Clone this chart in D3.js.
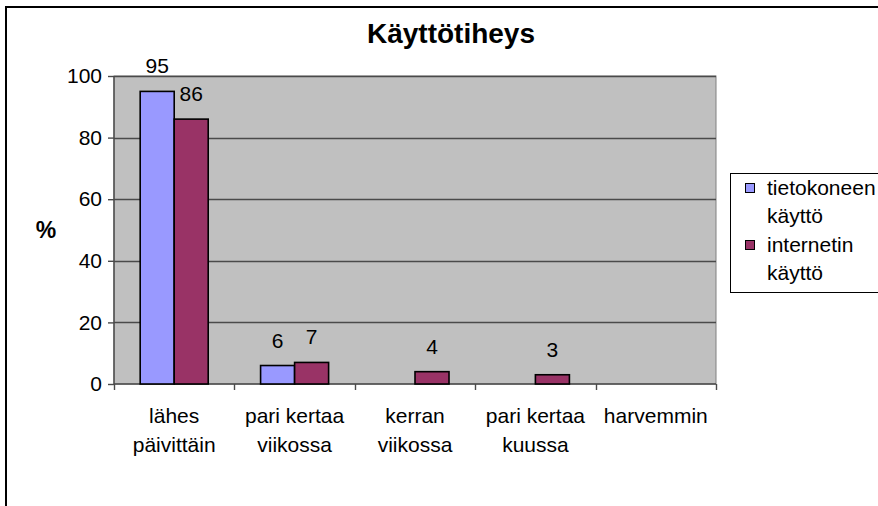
<!DOCTYPE html>
<html>
<head>
<meta charset="utf-8">
<script src="https://cdn.jsdelivr.net/npm/d3@7"></script>
<style>
  html, body { margin: 0; padding: 0; background: #fff; overflow: hidden; }
  svg { display: block; font-family: "Liberation Sans", Arial, sans-serif; }
</style>
</head>
<body>
<svg id="chart" width="878" height="506"></svg>
<script>
const title = "Käyttötiheys";
const yTitle = "%";
const categories = [["lähes", "päivittäin"], ["pari kertaa", "viikossa"], ["kerran", "viikossa"], ["pari kertaa", "kuussa"], ["harvemmin"]];
const seriesNames = [["tietokoneen", "käyttö"], ["internetin", "käyttö"]];
const tietokone = [95, 6, 0, 0, 0];
const internet = [86, 7, 4, 3, 0];
const yTicks = [0, 20, 40, 60, 80, 100];
const colors = ["#9999FF", "#993366"];

const FS = 21;
const svg = d3.select("#chart");
const plot = { left: 114, right: 716, top: 76, bottom: 384 };
const catKeys = categories.map((c, i) => i);
const seriesData = [tietokone, internet];

// outer chart border
svg.append("rect").attr("x", 6).attr("y", 7).attr("width", 920).attr("height", 540)
  .attr("fill", "#fff").attr("stroke", "#000").attr("stroke-width", 2);

const x0 = d3.scaleBand().domain(catKeys).range([plot.left, plot.right]).paddingInner(0).paddingOuter(0);
const x1 = d3.scaleBand().domain([0, 1]).range([0, x0.bandwidth()]).paddingInner(0).paddingOuter(0.77);
const y = d3.scaleLinear().domain([0, 100]).range([plot.bottom, plot.top]);

// plot area
svg.append("rect").attr("x", plot.left).attr("y", plot.top)
  .attr("width", plot.right - plot.left).attr("height", plot.bottom - plot.top)
  .attr("fill", "#C0C0C0").attr("stroke", "#808080").attr("stroke-width", 1);

// gridlines
svg.append("g").selectAll("line").data(yTicks.filter(t => t > 0)).join("line")
  .attr("x1", plot.left).attr("x2", plot.right)
  .attr("y1", d => Math.round(y(d)) + 0.5).attr("y2", d => Math.round(y(d)) + 0.5)
  .attr("stroke", "#4a4a4a").attr("stroke-width", 1.4);

// y axis
const yAxis = d3.axisLeft(y).tickValues(yTicks).tickSize(6).tickPadding(6).tickFormat(d3.format("d"));
const gy = svg.append("g").attr("transform", `translate(${plot.left},0)`).call(yAxis);
gy.select(".domain").attr("stroke", "#4a4a4a").attr("stroke-width", 1.4).attr("d", `M0,${plot.top}V${plot.bottom}`);
gy.selectAll(".tick line").attr("stroke", "#4a4a4a").attr("stroke-width", 1.4);
gy.selectAll(".tick text").attr("font-size", FS).attr("fill", "#000")
  .attr("font-family", "Liberation Sans, Arial, sans-serif");

// x axis
const xAxis = d3.axisBottom(x0).tickSize(0).tickFormat(() => "");
const gx = svg.append("g").attr("transform", `translate(0,${plot.bottom})`).call(xAxis);
gx.select(".domain").attr("stroke", "#4a4a4a").attr("stroke-width", 1.4).attr("d", `M${plot.left},0H${plot.right}`);
gx.selectAll(".tick").remove();
const bounds = catKeys.map(k => x0(k)).concat([plot.right]);
gx.selectAll("line.b").data(bounds).join("line").attr("class", "b")
  .attr("x1", d => Math.round(d) + 0.5).attr("x2", d => Math.round(d) + 0.5)
  .attr("y1", 0).attr("y2", 6).attr("stroke", "#4a4a4a").attr("stroke-width", 1.4);

// category labels
const catG = svg.append("g");
categories.forEach((lines, i) => {
  const t = catG.append("text").attr("x", x0(i) + x0.bandwidth() / 2).attr("y", 423)
    .attr("text-anchor", "middle").attr("font-size", FS).attr("fill", "#000");
  lines.forEach((ln, j) => t.append("tspan").attr("x", x0(i) + x0.bandwidth() / 2).attr("dy", j === 0 ? 0 : 29).text(ln));
});

// bars
seriesData.forEach((vals, s) => {
  svg.append("g").selectAll("rect").data(vals.map((v, i) => ({ v, i }))).join("rect")
    .filter(d => d.v > 0)
    .attr("x", d => x0(d.i) + x1(s)).attr("width", x1.bandwidth())
    .attr("y", d => y(d.v)).attr("height", d => y(0) - y(d.v))
    .attr("fill", colors[s]).attr("stroke", "#000").attr("stroke-width", 1.6);
  svg.append("g").selectAll("text").data(vals.map((v, i) => ({ v, i })).filter(d => d.v > 0)).join("text")
    .attr("x", d => x0(d.i) + x1(s) + x1.bandwidth() / 2)
    .attr("y", d => y(d.v) - 18)
    .attr("text-anchor", "middle").attr("font-size", FS).attr("fill", "#000")
    .text(d => d.v);
});

// title
svg.append("text").attr("x", 451).attr("y", 43).attr("text-anchor", "middle")
  .attr("font-size", 28).attr("font-weight", "bold").attr("fill", "#000").text(title);

// y title
svg.append("text").attr("x", 46).attr("y", 238).attr("text-anchor", "middle")
  .attr("font-size", 23).attr("font-weight", "bold").attr("fill", "#000").text(yTitle);

// legend
const lg = svg.append("g");
lg.append("rect").attr("x", 730.5).attr("y", 173.5).attr("width", 200).attr("height", 119)
  .attr("fill", "#fff").attr("stroke", "#000").attr("stroke-width", 1);
seriesNames.forEach((lines, s) => {
  const base = 195 + s * 57;
  lg.append("rect").attr("x", 745.5).attr("y", base - 11.5).attr("width", 9).attr("height", 9)
    .attr("fill", colors[s]).attr("stroke", "#000").attr("stroke-width", 1);
  const t = lg.append("text").attr("x", 767).attr("y", base).attr("font-size", FS).attr("fill", "#000");
  lines.forEach((ln, j) => t.append("tspan").attr("x", 767).attr("dy", j === 0 ? 0 : 28).text(ln));
});
</script>
</body>
</html>
